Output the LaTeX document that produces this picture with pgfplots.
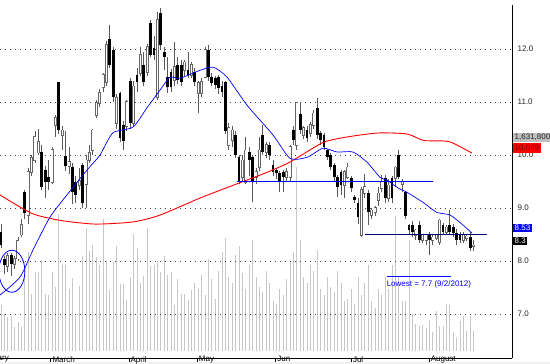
\documentclass[border=0pt]{standalone}
\usepackage{pgfplots}
\pgfplotsset{compat=1.18}
\usepackage{pgfplotstable}
\usepackage{fontspec}
\setmainfont{Liberation Sans}
\newcommand\lbl{\fontsize{8}{9.6}\selectfont}
\pgfplotstableread{
i o h l c v
0 8.55 8.70 8.25 8.30 3.75
1 8.05 8.10 7.75 7.92 3.1
2 7.90 8.15 7.80 8.10 2.7
3 8.12 8.15 7.72 7.95 2.85
4 7.95 8.10 7.85 8.05 1.9
5 8.05 8.45 8.00 8.38 2.3
6 8.50 8.80 8.45 8.68 1.9
7 9.30 9.35 8.80 8.90 6.8
8 8.87 9.75 8.70 9.68 8.0
9 9.68 10.00 9.60 9.95 4.6
10 9.90 10.45 9.85 10.34 6.4
11 10.05 10.50 10.00 10.25 6.4
12 10.06 10.20 9.35 9.40 7.3
13 9.72 9.80 9.20 9.49 4.6
14 9.58 9.90 9.35 9.49 4.5
15 9.49 10.15 9.45 10.10 6.4
16 10.57 10.75 10.35 10.70 5.2
17 11.38 11.38 10.40 10.47 11.1
18 10.38 10.55 10.10 10.47 7.0
19 9.98 10.45 9.70 9.79 7.0
20 9.80 10.15 9.65 9.88 5.0
21 9.77 9.85 9.08 9.30 5.9
22 9.50 9.60 9.10 9.25 2.85
23 9.43 9.75 9.35 9.52 5.3
24 9.81 9.85 9.00 9.10 7.7
25 9.45 10.00 9.00 9.90 10.0
26 9.90 10.20 9.85 10.05 8.1
27 10.09 10.50 10.00 10.47 8.6
28 10.75 11.05 10.70 10.98 7.6
29 10.98 11.25 10.90 11.17 7.0
30 11.28 11.55 11.20 11.51 10.7
31 11.38 12.15 11.30 12.08 7.3
32 12.20 12.45 11.65 11.70 4.9
33 11.98 12.05 11.00 11.09 7.2
34 10.60 11.15 10.50 11.08 8.5
35 11.17 11.20 10.25 10.32 5.4
36 10.57 10.65 10.10 10.27 5.4
37 10.55 11.05 10.45 11.00 4.1
38 11.40 11.45 10.50 10.60 6.0
39 10.60 11.40 10.55 11.30 9.5
40 11.51 11.65 11.20 11.38 8.4
41 11.55 12.05 11.50 11.89 5.5
42 11.70 11.95 11.30 11.38 6.1
43 11.57 12.10 11.50 12.04 10.0
44 12.49 12.55 11.85 11.89 6.9
45 12.02 12.25 11.80 11.89 7.0
46 11.10 12.70 11.05 12.55 7.3
47 12.68 12.78 12.00 12.08 6.4
48 11.94 12.05 11.60 11.85 7.7
49 11.47 11.85 11.18 11.28 6.2
50 11.57 11.62 11.20 11.28 6.4
51 11.41 12.13 11.30 11.66 3.75
52 11.70 11.85 11.35 11.41 5.8
53 11.70 11.80 11.30 11.38 4.6
54 11.60 11.80 11.50 11.75 4.6
55 11.60 11.95 11.45 11.51 4.1
56 11.51 11.75 11.45 11.70 4.9
57 11.57 11.65 11.30 11.38 5.5
58 11.17 11.40 10.79 11.36 5.0
59 11.17 11.45 11.10 11.38 6.2
60 11.47 12.05 11.45 11.98 4.5
61 11.98 12.08 11.40 11.47 7.5
62 11.47 11.55 11.30 11.36 5.8
63 11.45 11.50 11.25 11.32 4.2
64 11.47 11.52 11.15 11.26 6.5
65 11.30 11.40 11.10 11.20 8.0
66 11.38 11.40 10.40 10.45 9.2
67 10.19 10.60 10.10 10.51 6.0
68 10.28 10.55 10.15 10.47 5.5
69 10.38 10.45 9.95 10.00 7.8
70 9.96 10.00 9.45 9.49 8.5
71 9.58 10.00 9.50 9.90 6.3
72 9.49 10.35 9.45 10.09 5.0
73 10.06 10.15 9.60 9.90 7.0
74 9.96 10.00 9.11 9.49 9.0
75 9.58 9.75 9.45 9.68 6.0
76 9.77 10.35 9.70 10.09 5.2
77 10.38 10.57 10.00 10.06 4.8
78 10.06 10.25 9.95 10.19 6.5
79 10.19 10.25 9.90 10.00 5.5
80 9.81 9.90 9.60 9.68 4.0
81 9.72 9.75 9.55 9.66 3.8
82 9.66 9.70 9.30 9.49 5.0
83 9.68 9.72 9.30 9.58 4.5
84 9.58 9.75 9.50 9.68 5.8
85 9.58 10.20 9.50 10.15 7.2
86 10.47 10.55 10.20 10.28 8.0
87 10.19 11.00 10.10 10.98 15.0
88 10.77 11.00 10.40 10.47 9.0
89 10.38 10.55 10.30 10.51 6.0
90 10.47 10.55 10.25 10.32 5.5
91 10.41 10.62 10.35 10.57 7.0
92 10.57 10.85 10.50 10.79 6.5
93 10.89 11.08 10.30 10.38 8.2
94 10.41 10.45 10.20 10.28 5.0
95 10.38 10.42 10.10 10.15 4.5
96 10.09 10.12 9.90 9.96 6.0
97 10.00 10.05 9.72 9.77 5.2
98 9.81 9.85 9.50 9.58 4.8
99 9.58 9.62 9.21 9.40 6.5
100 9.68 9.72 9.25 9.43 5.5
101 9.43 9.72 9.20 9.68 4.0
102 9.58 9.85 9.55 9.77 4.2
103 9.56 9.60 9.30 9.38 5.0
104 9.21 9.25 9.10 9.15 3.8
105 9.09 9.19 8.70 8.83 6.0
106 8.49 9.40 8.45 9.34 4.5
107 9.28 9.65 9.20 9.40 5.5
108 9.28 9.35 8.68 8.92 7.0
109 8.87 9.00 8.80 8.96 4.0
110 8.92 9.05 8.85 9.00 3.5
111 9.15 9.40 9.05 9.28 5.0
112 9.38 9.62 9.30 9.49 4.5
113 9.56 9.62 9.10 9.19 6.0
114 9.19 9.55 9.12 9.43 5.0
115 9.56 9.60 9.10 9.19 7.0
116 9.56 9.80 9.40 9.77 11.0
117 10.00 10.09 9.55 9.58 6.0
118 9.45 9.55 9.30 9.49 4.0
119 9.30 9.32 8.80 8.85 4.0
120 8.68 8.70 8.49 8.58 9.0
121 8.68 8.75 8.45 8.55 3.0
122 8.49 8.60 8.40 8.58 2.2
123 8.68 8.75 8.35 8.40 2.0
124 8.40 8.52 8.35 8.49 2.1
125 8.40 8.52 8.30 8.49 1.8
126 8.49 8.55 8.11 8.40 2.5
127 8.40 8.50 8.30 8.45 1.5
128 8.43 8.52 8.40 8.49 3.2
129 8.36 8.80 8.30 8.77 2.0
130 8.68 8.72 8.50 8.55 2.0
131 8.55 8.68 8.50 8.64 3.8
132 8.68 8.96 8.50 8.55 3.7
133 8.64 8.70 8.45 8.53 1.5
134 8.53 8.60 8.30 8.40 1.0
135 8.49 8.55 8.35 8.40 2.4
136 8.40 8.55 8.35 8.49 2.8
137 8.43 8.52 8.38 8.47 1.6
138 8.45 8.55 8.20 8.25 2.8
139 8.28 8.40 8.20 8.30 1.63
}\stock

\pgfplotsset{
  commonaxis/.style={
    at={(0,11)}, anchor=south west, scale only axis,
    width=512pt, height=353pt, xmin=-0.294, xmax=150.29,
  },
  candle/.style={draw=none, no markers, error bars/y dir=plus, error bars/y explicit, error bars/error mark=none},
}

\begin{document}
\begin{tikzpicture}[x=1pt,y=1pt]
\path[use as bounding box] (0,0) rectangle (550,364);
\clip (0,0) rectangle (550,364);
\fill[white] (0,0) rectangle (550,364);
\fill[black!6] (0,0) rectangle (550,2);

% volume
\begin{axis}[commonaxis, ymin=0, ymax=28.8, hide axis]
\addplot[ycomb, draw=black!22, line width=0.9pt, mark=none] table[x=i, y=v]{\stock};
\end{axis}

% price: candles
\begin{axis}[commonaxis, ymin=6.17, ymax=12.83,
  axis x line*=bottom, axis y line*=right,
  axis line style={black, line width=0.8pt},
  ytick={7,8,9,10,11,12}, yticklabels={7.0,8.0,9.0,10.0,11.0,12.0},
  ymajorgrids, grid style={black!75, line width=0.8pt, dash pattern=on 0.8pt off 4.2pt},
  y tick style={draw=none},
  yticklabel style={anchor=west, inner sep=0pt, xshift=2pt, font=\lbl, text=black!85},
  xtick={14.65,37.62,57.71,80.79,103.03,125.91},
  xticklabels={March,April,May,Jun,Jul,August},
  tick align=outside, major tick length=3.5pt,
  x tick style={black, line width=0.8pt},
  xticklabel style={anchor=north west, inner sep=0pt, xshift=1.5pt, yshift=5.5pt, font=\lbl},
  clip=true]
% wicks
\addplot[candle, error bars/error bar style={draw=black!65, line width=0.8pt}]
  table[x=i, y=l, y error plus expr=\thisrow{h}-\thisrow{l}]{\stock};
% down bodies
\addplot[candle, restrict expr to domain={\thisrow{o}-\thisrow{c}}{0.0001:100},
  error bars/error bar style={draw=black, line width=2.8pt}]
  table[x=i, y=c, y error plus expr=\thisrow{o}-\thisrow{c}]{\stock};
% up bodies: outline then white
\addplot[candle, restrict expr to domain={\thisrow{c}-\thisrow{o}}{0:100},
  error bars/error bar style={draw=black!60, line width=3pt}]
  table[x=i, y expr=\thisrow{o}-0.014, y error plus expr=\thisrow{c}-\thisrow{o}+0.028]{\stock};
\addplot[candle, restrict expr to domain={\thisrow{c}-\thisrow{o}}{0:100},
  error bars/error bar style={draw=white, line width=1.4pt}]
  table[x=i, y=o, y error plus expr=\thisrow{c}-\thisrow{o}]{\stock};
\end{axis}

% price: overlays (moving averages, lines, notes)
\begin{axis}[commonaxis, ymin=6.17, ymax=12.83, hide axis, clip=true]
\addplot[color=red, line width=0.9pt, mark=none, smooth, tension=0.4] coordinates {
(-0.3,9.25) (9.1,8.90) (17.4,8.77) (27.6,8.70) (38.8,8.74) (46.8,8.87) (58.5,9.19)
(68.2,9.43) (77.6,9.66) (85,9.87) (94.4,10.23) (99.7,10.32) (105.6,10.38) (111.5,10.42)
(119.4,10.40) (124.1,10.28) (128,10.27) (132.1,10.25) (138.5,10.04)};
\addplot[color=blue, line width=0.7pt, mark=none, smooth, tension=0.4] coordinates {
(-0.3,7.36) (5.6,7.70) (9.4,8.21) (14.4,8.83) (19.4,9.25) (25.3,9.72) (29.1,10.0)
(32.9,10.42) (38.8,10.53) (42.9,10.89) (46.8,11.23) (49.7,11.47) (52.6,11.45) (58.5,11.60)
(62.4,11.66) (66.5,11.47) (72.4,10.94) (80,10.38) (85,9.94) (90,9.96) (94.7,10.13)
(98.8,10.06) (103.5,10.06) (107.6,9.87) (111.5,9.58) (113.5,9.53) (116.8,9.38)
(119.4,9.30) (124.1,9.11) (128.2,8.92) (132.1,8.87) (135.9,8.68) (138.5,8.53)};
\addplot[color=blue, line width=1.1pt, mark=none] coordinates {(69.4,9.5) (127.1,9.5)};
\addplot[color=blue!45!black, line width=1pt, mark=none] coordinates {(107.1,8.51) (142.9,8.51)};
\addplot[color=blue, line width=1pt, mark=none] coordinates {(113.4,7.72) (132.3,7.72)};
\node[anchor=west, inner sep=0pt, text=blue, font=\lbl] at (axis cs:113.4,7.57) {Lowest = 7.7 (9/2/2012)};
\draw[blue, line width=0.8pt] (axis cs:3.2,7.81) ellipse [x radius=13pt, y radius=21pt];
\end{axis}

\node[anchor=base east, inner sep=0pt, font=\lbl] at (9,3) {February};

% value boxes on the right
\node[anchor=west, fill=black!25, text=black!85, inner xsep=1.5pt, inner ysep=0pt, minimum height=9pt, font=\lbl] at (513,226.5) {1,631,800};
\node[anchor=west, fill=red, text={rgb,255:red,110;green,0;blue,0}, inner xsep=1.5pt, inner ysep=0pt, minimum height=10pt, font=\lbl] at (513,216) {10.049};
\node[anchor=west, fill=blue, text=white, inner xsep=1.5pt, inner ysep=0pt, minimum height=8.5pt, font=\lbl] at (513,136) {8.53};
\node[anchor=west, fill=black, text=white, inner xsep=1.5pt, inner ysep=0pt, minimum height=8.5pt, font=\lbl] at (513,123) {8.3};
\end{tikzpicture}
\end{document}
